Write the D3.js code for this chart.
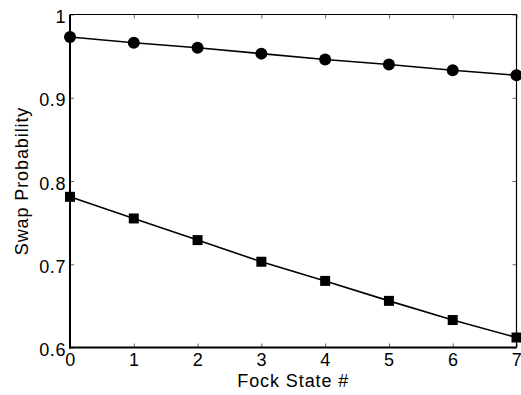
<html>
<head>
<meta charset="utf-8">
<title>Swap Probability vs Fock State</title>
<script src="https://cdn.jsdelivr.net/npm/d3@7"></script>
<style>
  body { margin: 0; background: #fff; }
  text { font-family: "Liberation Sans", Arial, Helvetica, sans-serif; fill: #000; }
</style>
</head>
<body>
<script>
// data
var fockStates = [0, 1, 2, 3, 4, 5, 6, 7];
var circleSeries = [0.973, 0.966, 0.960, 0.953, 0.946, 0.940, 0.933, 0.927];
var squareSeries = [0.781, 0.755, 0.729, 0.703, 0.680, 0.656, 0.633, 0.612];
var xTicks = [0, 1, 2, 3, 4, 5, 6, 7];
var yTicks = [0.6, 0.7, 0.8, 0.9, 1];

var width = 521, height = 395;
var mLeft = 70, mRight = 516.5, mTop = 14.5, mBottom = 347.5;

var svg = d3.select("body").append("svg")
    .attr("width", width)
    .attr("height", height);

var x = d3.scaleLinear().domain([0, 7]).range([mLeft, mRight]);
var y = d3.scaleLinear().domain([0.6, 1]).range([mBottom, mTop]);

// axes, ticks pointing inward
var tickLen = 4;
svg.append("g").attr("class", "xax").attr("transform", "translate(0," + mBottom + ")")
  .call(d3.axisBottom(x).tickValues(xTicks).tickSize(-tickLen).tickPadding(6).tickFormat(d3.format("d")))
  .call(function(g) { g.select(".domain").remove(); });
svg.append("g").attr("transform", "translate(0," + mTop + ")")
  .call(d3.axisTop(x).tickValues(xTicks).tickSize(-tickLen).tickFormat(""))
  .call(function(g) { g.select(".domain").remove(); });
svg.append("g").attr("class", "yax").attr("transform", "translate(" + mLeft + ",0)")
  .call(d3.axisLeft(y).tickValues(yTicks).tickSize(-tickLen).tickPadding(4).tickFormat(d3.format("~g")))
  .call(function(g) { g.select(".domain").remove(); });
svg.append("g").attr("transform", "translate(" + mRight + ",0)")
  .call(d3.axisRight(y).tickValues(yTicks).tickSize(-tickLen).tickFormat(""))
  .call(function(g) { g.select(".domain").remove(); });

svg.selectAll(".tick line").attr("stroke", "#666").attr("stroke-width", 1);
svg.selectAll(".tick text").style("font-size", "18px").style("letter-spacing", "0.6px").attr("fill", "#000");
svg.selectAll(".yax .tick text").attr("dy", "0.45em");

// box
svg.append("line").attr("x1", mLeft).attr("x2", mRight).attr("y1", mTop).attr("y2", mTop)
  .attr("stroke", "#000").attr("stroke-width", 1.2);
svg.append("line").attr("x1", mRight).attr("x2", mRight).attr("y1", mTop).attr("y2", mBottom)
  .attr("stroke", "#000").attr("stroke-width", 1.2);
svg.append("line").attr("x1", mLeft).attr("x2", mLeft).attr("y1", mTop).attr("y2", mBottom + 1)
  .attr("stroke", "#000").attr("stroke-width", 2);
svg.append("line").attr("x1", mLeft - 1).attr("x2", mRight).attr("y1", mBottom).attr("y2", mBottom)
  .attr("stroke", "#000").attr("stroke-width", 2);

var line = d3.line().x(function(d, i) { return x(fockStates[i]); }).y(function(d) { return y(d); });

svg.append("path").datum(circleSeries).attr("d", line)
  .attr("fill", "none").attr("stroke", "#000").attr("stroke-width", 1.6);
svg.append("path").datum(squareSeries).attr("d", line)
  .attr("fill", "none").attr("stroke", "#000").attr("stroke-width", 1.6);

svg.selectAll(".circ").data(circleSeries).enter().append("circle")
  .attr("cx", function(d, i) { return x(fockStates[i]); })
  .attr("cy", function(d) { return y(d); })
  .attr("r", 6).attr("fill", "#000");

var sq = 10;
svg.selectAll(".sq").data(squareSeries).enter().append("rect")
  .attr("x", function(d, i) { return x(fockStates[i]) - sq / 2; })
  .attr("y", function(d) { return y(d) - sq / 2; })
  .attr("width", sq).attr("height", sq).attr("fill", "#000");

// axis labels
svg.append("text").attr("x", (mLeft + mRight) / 2).attr("y", 386.5)
  .attr("text-anchor", "middle").style("font-size", "18px").style("letter-spacing", "0.9px")
  .text("Fock State #");
svg.append("text").attr("transform", "translate(28," + ((mTop + mBottom) / 2) + ") rotate(-90)")
  .attr("text-anchor", "middle").style("font-size", "18px").style("letter-spacing", "0.9px")
  .text("Swap Probability");
</script>
</body>
</html>
